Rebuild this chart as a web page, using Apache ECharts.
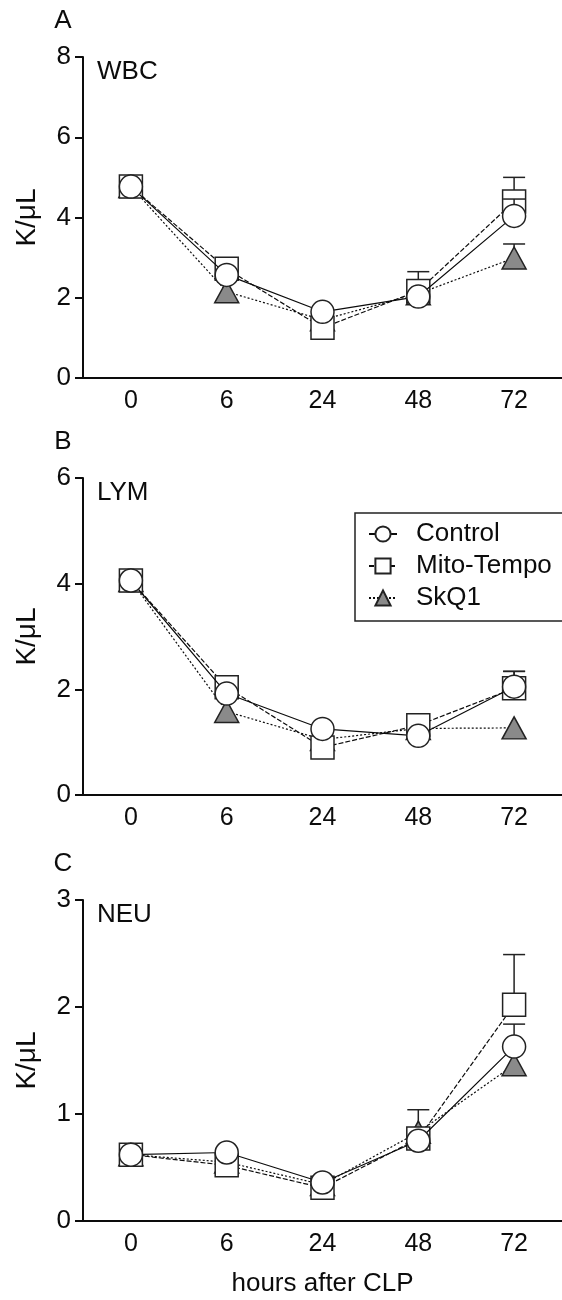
<!DOCTYPE html>
<html><head><meta charset="utf-8">
<script src="https://cdn.jsdelivr.net/npm/echarts@6/dist/echarts.min.js"></script>
<style>html,body{margin:0;padding:0;background:#fff}#c{width:562px;height:1300px}</style>
</head><body><div id="c"></div>
<script>
// ---- data ----
const hours = ['0', '6', '24', '48', '72'];
const seriesNames = ['Control', 'Mito-Tempo', 'SkQ1'];
const panelLetters = ['A', 'B', 'C'];
const panelLabels = ['WBC', 'LYM', 'NEU'];
const yUnit = 'K/\u03bcL';
const xTitle = 'hours after CLP';
const yMax = [8, 6, 3];
const yStep = [2, 2, 1];

const wbcControl = [4.77, 2.57, 1.65, 2.03, 4.04];
const wbcMito    = [4.77, 2.72, 1.25, 2.17, 4.40];
const wbcSkq1    = [4.77, 2.15, 1.45, 2.10, 2.99];
const wbcControlErr = [0, 0, 0, 0, 0.42];
const wbcMitoErr    = [0, 0, 0, 0.48, 0.60];
const wbcSkq1Err    = [0, 0, 0, 0, 0.35];

const lymControl = [4.06, 1.92, 1.25, 1.12, 2.05];
const lymMito    = [4.06, 2.04, 0.90, 1.32, 2.02];
const lymSkq1    = [4.06, 1.58, 1.05, 1.26, 1.27];
const lymControlErr = [0, 0, 0, 0, 0.29];
const lymMitoErr    = [0, 0, 0, 0, 0.32];
const lymSkq1Err    = [0, 0, 0, 0, 0];

const neuControl = [0.62, 0.64, 0.36, 0.75, 1.63];
const neuMito    = [0.62, 0.52, 0.31, 0.77, 2.02];
const neuSkq1    = [0.62, 0.55, 0.34, 0.83, 1.46];
const neuControlErr = [0, 0, 0, 0, 0.21];
const neuMitoErr    = [0, 0, 0, 0, 0.47];
const neuSkq1Err    = [0, 0, 0, 0.21, 0];

// ---- chart ----
const FONT = 'Liberation Sans, Arial, Helvetica, sans-serif';
const INK = '#0c0c0c';
const panels = [
  [wbcControl, wbcMito, wbcSkq1, wbcControlErr, wbcMitoErr, wbcSkq1Err],
  [lymControl, lymMito, lymSkq1, lymControlErr, lymMitoErr, lymSkq1Err],
  [neuControl, neuMito, neuSkq1, neuControlErr, neuMitoErr, neuSkq1Err]
];
const gridTops = [57, 478, 900];
const gridHeights = [321, 317, 321];

const styles = [
  {symbol: 'circle', fill: '#fff', dash: 'solid', z: 7},
  {symbol: 'rect', fill: '#fff', dash: [5, 2], z: 5},
  {symbol: 'triangle', fill: '#8a8a8a', dash: [2, 2], z: 3}
];

const grids = [], xAxes = [], yAxes = [], series = [], graphics = [];
panels.forEach((p, g) => {
  grids.push({left: 83, right: 0, top: gridTops[g], height: gridHeights[g]});
  xAxes.push({
    type: 'category', gridIndex: g, data: hours, boundaryGap: true,
    axisLine: {lineStyle: {color: INK, width: 2}},
    axisTick: {alignWithLabel: true, length: 8, lineStyle: {color: INK, width: 2}},
    axisLabel: {fontSize: 25, fontFamily: FONT, color: INK, margin: 11},
    name: g === 2 ? xTitle : '', nameLocation: 'middle', nameGap: 50,
    nameTextStyle: {fontSize: 26, fontFamily: FONT, color: INK}
  });
  yAxes.push({
    type: 'value', gridIndex: g, min: 0, max: yMax[g], interval: yStep[g],
    axisLine: {show: true, lineStyle: {color: INK, width: 2}},
    axisTick: {show: true, length: 8, lineStyle: {color: INK, width: 2}},
    splitLine: {show: false},
    axisLabel: {fontSize: 26, fontFamily: FONT, color: INK, margin: 12},
    name: yUnit, nameLocation: 'middle', nameGap: 42,
    nameTextStyle: {fontSize: 28, fontFamily: FONT, color: INK}
  });
  for (let s = 0; s < 3; s++) {
    const st = styles[s];
    series.push({
      name: seriesNames[s], type: 'line', xAxisIndex: g, yAxisIndex: g,
      data: p[s], z: st.z, symbol: st.symbol,
      symbolSize: st.symbol === 'triangle' ? [24, 22] : 23,
      lineStyle: {color: INK, width: 1.2, type: st.dash},
      itemStyle: {color: st.fill, borderColor: '#222', borderWidth: 1.5},
      emphasis: {disabled: true}, animation: false
    });
    const means = p[s], errs = p[s + 3];
    series.push({
      type: 'custom', xAxisIndex: g, yAxisIndex: g, z: st.z - 1, silent: true, animation: false,
      data: means.map((m, i) => [i, m, errs[i]]).filter(d => d[2] > 0),
      renderItem: (params, api) => {
        const x = api.value(0), m = api.value(1), e = api.value(2);
        const p0 = api.coord([x, m]), p1 = api.coord([x, m + e]);
        const hw = 11;
        const ls = {stroke: '#222', lineWidth: 1.5};
        return {type: 'group', children: [
          {type: 'line', shape: {x1: p0[0], y1: p0[1], x2: p1[0], y2: p1[1]}, style: ls},
          {type: 'line', shape: {x1: p1[0] - hw, y1: p1[1], x2: p1[0] + hw, y2: p1[1]}, style: ls}
        ]};
      }
    });
  }
  graphics.push({type: 'text', x: 63, y: gridTops[g] - 36, style: {text: panelLetters[g], fontSize: 26, fontFamily: FONT, fill: INK, align: 'center', verticalAlign: 'middle'}});
  graphics.push({type: 'text', x: 97, y: gridTops[g] + 15, style: {text: panelLabels[g], fontSize: 26, fontFamily: FONT, fill: INK, align: 'left', verticalAlign: 'middle'}});
});

const chart = echarts.init(document.getElementById('c'), null, {renderer: 'canvas'});
chart.setOption({
  animation: false,
  backgroundColor: '#fff',
  grid: grids, xAxis: xAxes, yAxis: yAxes, series: series, graphic: graphics,
  legend: {
    data: seriesNames, orient: 'vertical', left: 355, top: 513,
    itemWidth: 28, itemHeight: 19, itemGap: 6,
    padding: [8, 80, 10, 13],
    borderColor: '#222', borderWidth: 1.5,
    textStyle: {fontSize: 26, fontFamily: FONT, color: INK, padding: [0, 0, 0, 14]},
    selectedMode: false
  }
});
</script></body></html>
